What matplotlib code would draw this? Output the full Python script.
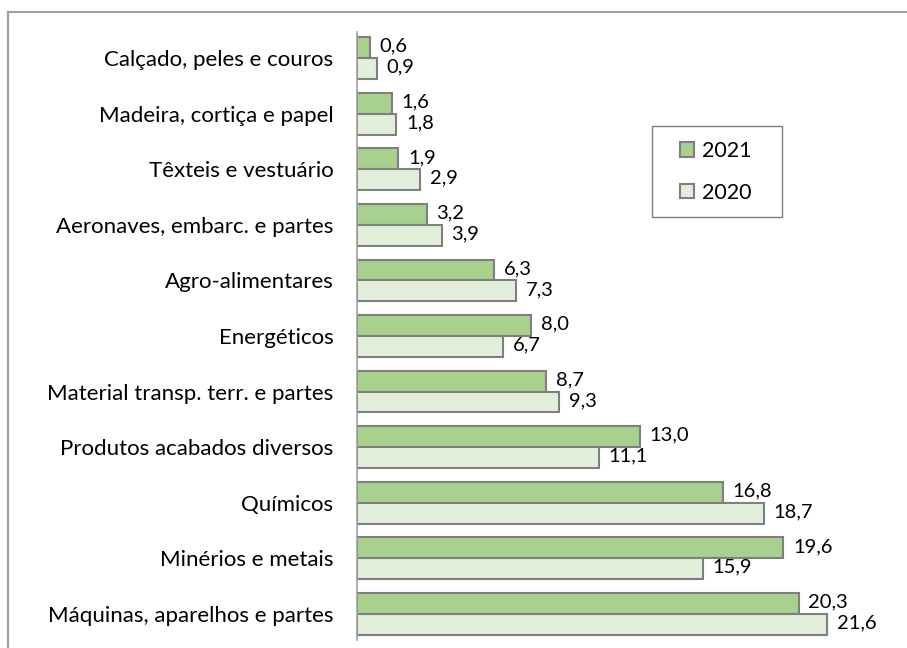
import matplotlib.pyplot as plt
from matplotlib.lines import Line2D
from matplotlib.patches import Rectangle

# categories bottom -> top
categories = ['Máquinas, aparelhos e partes', 'Minérios e metais', 'Químicos',
              'Produtos acabados diversos', 'Material transp. terr. e partes',
              'Energéticos', 'Agro-alimentares', 'Aeronaves, embarc. e partes',
              'Têxteis e vestuário', 'Madeira, cortiça e papel',
              'Calçado, peles e couros']
v2021 = [20.3, 19.6, 16.8, 13.0, 8.7, 8.0, 6.3, 3.2, 1.9, 1.6, 0.6]
v2020 = [21.6, 15.9, 18.7, 11.1, 9.3, 6.7, 7.3, 3.9, 2.9, 1.8, 0.9]

plt.rcParams['font.family'] = ['Lato', 'DejaVu Sans']

W, H = 907, 648
fig = plt.figure(figsize=(W/100, H/100), dpi=100)
ax = fig.add_axes([357/W, 1-640/H, 544/W, 608/H])

h = 0.375
pos = list(range(len(categories)))
b1 = ax.barh([p + h/2 for p in pos], v2021, height=h, color='#a9d18e',
             edgecolor='#7f7f7f', linewidth=1.5, label='2021')
b2 = ax.barh([p - h/2 for p in pos], v2020, height=h, color='#e2efda',
             edgecolor='#7f7f7f', linewidth=1.5, label='2020')

def fmt(v):
    return ('%.1f' % v).replace('.', ',')

for bars, vals in ((b1, v2021), (b2, v2020)):
    for bar, v in zip(bars, vals):
        ax.annotate(fmt(v), (v, bar.get_y() + bar.get_height()/2),
                    xytext=(7, 1), textcoords='offset points',
                    va='center', ha='left', fontsize=14.5)

ax.set_xlim(0, 25)
ax.set_ylim(-0.47, 10.47)
ax.set_yticks(pos)
ax.set_yticklabels(categories, fontsize=16)
ax.tick_params(axis='y', length=0, pad=17)
ax.set_xticks([])
for s in ['top', 'right', 'bottom']:
    ax.spines[s].set_visible(False)
ax.spines['left'].set_color('#a0a0a0')
ax.spines['left'].set_linewidth(1.2)

# legend box drawn separately, entries placed inside
fig.add_artist(Rectangle((652/W, 1-217/H), 130/W, 91/H, transform=fig.transFigure,
                         facecolor='white', edgecolor='#7f7f7f', lw=1.0, zorder=3))
leg = fig.legend(handles=[b1, b2], loc='upper left',
                 bbox_to_anchor=(680/W, 1-141/H), fontsize=15.5, frameon=False,
                 handlelength=0.65, handleheight=0.65, handletextpad=0.35,
                 labelspacing=1.0, borderpad=0, borderaxespad=0)
leg.set_zorder(4)

# outer chart frame (only left and top edges visible)
fig.add_artist(Line2D([8/W, 8/W], [0, 1-12/H], color='#a0a0a0', lw=1.5,
                      transform=fig.transFigure))
fig.add_artist(Line2D([8/W, 1], [1-12/H, 1-12/H], color='#a0a0a0', lw=1.5,
                      transform=fig.transFigure))

fig.savefig('out.png', dpi=100)
